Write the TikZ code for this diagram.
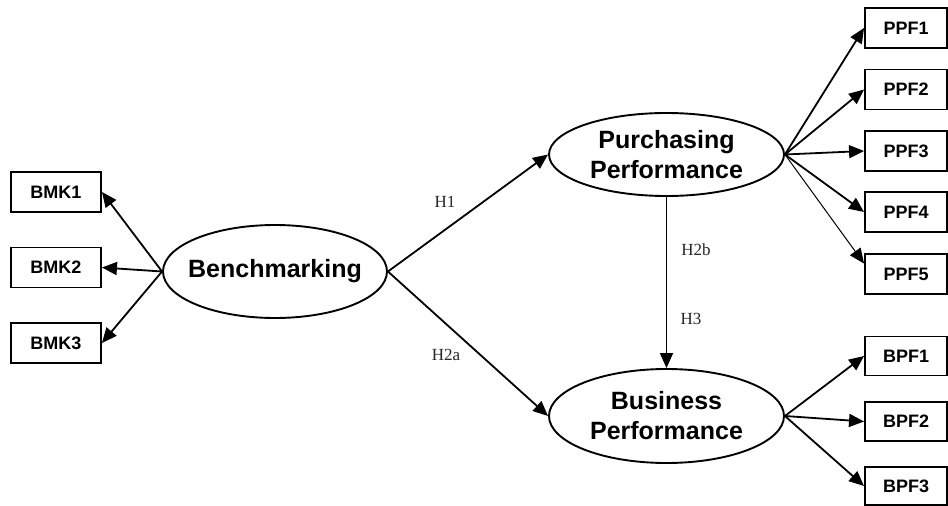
\documentclass[tikz,border=0pt]{standalone}
\usepackage{fontspec}
\setmainfont{Liberation Serif}
\newfontfamily\arialfont{Liberation Sans}
\usetikzlibrary{shapes.geometric,arrows.meta,calc}
\begin{document}
\begin{tikzpicture}[x=1pt,y=-1pt,
  ind/.style={draw,line width=1.9pt,rectangle,inner sep=0pt,font=\arialfont\bfseries\fontsize{18}{20}\selectfont},
  lat/.style={draw,line width=1.9pt,ellipse,inner xsep=-20pt,inner ysep=0pt,align=center,font=\arialfont\bfseries\fontsize{25}{30}\selectfont},
  conn/.style={line width=1.8pt,-{Triangle[length=15pt,width=13pt]}},
  thinconn/.style={line width=1pt,-{Triangle[length=15pt,width=13pt]}},
  hyp/.style={font=\fontsize{17}{19}\selectfont,text=black!85}]
\useasboundingbox (0,0) rectangle (948,506);
% latent variables
\node[lat,minimum width=224pt,minimum height=93pt] (bench) at (275,271.5) {Benchmarking};
\node[lat,minimum width=235pt,minimum height=83pt] (pp) at (666.5,154.5) {Purchasing\\Performance};
\node[lat,minimum width=235pt,minimum height=94pt] (bp) at (666.5,416) {Business\\Performance};
% indicators
\node[ind,minimum width=90pt,minimum height=40pt] (bmk1) at (56,192) {BMK1};
\node[ind,minimum width=90pt,minimum height=40pt] (bmk2) at (56,267.5) {BMK2};
\node[ind,minimum width=90pt,minimum height=40pt] (bmk3) at (56,343) {BMK3};
\node[ind,minimum width=82pt,minimum height=40pt] (ppf1) at (906,28) {PPF1};
\node[ind,minimum width=82pt,minimum height=40pt] (ppf2) at (906,89.5) {PPF2};
\node[ind,minimum width=82pt,minimum height=40pt] (ppf3) at (906,151) {PPF3};
\node[ind,minimum width=82pt,minimum height=40pt] (ppf4) at (906,212) {PPF4};
\node[ind,minimum width=82pt,minimum height=40pt] (ppf5) at (906,274) {PPF5};
\node[ind,minimum width=82pt,minimum height=39pt] (bpf1) at (906,356) {BPF1};
\node[ind,minimum width=82pt,minimum height=39pt] (bpf2) at (906,421.5) {BPF2};
\node[ind,minimum width=82pt,minimum height=38pt] (bpf3) at (906,486) {BPF3};
% measurement arrows
\draw[conn] (bench.west) -- (bmk1.east);
\draw[conn] (bench.west) -- (bmk2.east);
\draw[conn] (bench.west) -- (bmk3.east);
\draw[conn] (pp.east) -- (ppf1.west);
\draw[conn] (pp.east) -- (ppf2.west);
\draw[conn] (pp.east) -- (ppf3.west);
\draw[conn] (pp.east) -- (ppf4.west);
\draw[thinconn] (pp.east) -- ($(ppf5.north west)!0.25!(ppf5.south west)$);
\draw[conn] (bp.east) -- (bpf1.west);
\draw[conn] (bp.east) -- (bpf2.west);
\draw[conn] (bp.east) -- (bpf3.west);
% structural paths
\draw[conn] (bench.east) -- (pp.west);
\draw[conn] (bench.east) -- (bp.west);
\draw[conn] (pp.south) -- (bp.north);
% hypothesis labels
\node[hyp] (h1) at (445,202) {H1};
\node[hyp] (h2a) at (446,355) {H2a};
\node[hyp] (h2b) at (696,250) {H2b};
\node[hyp] (h3) at (691,319) {H3};
\end{tikzpicture}
\end{document}
